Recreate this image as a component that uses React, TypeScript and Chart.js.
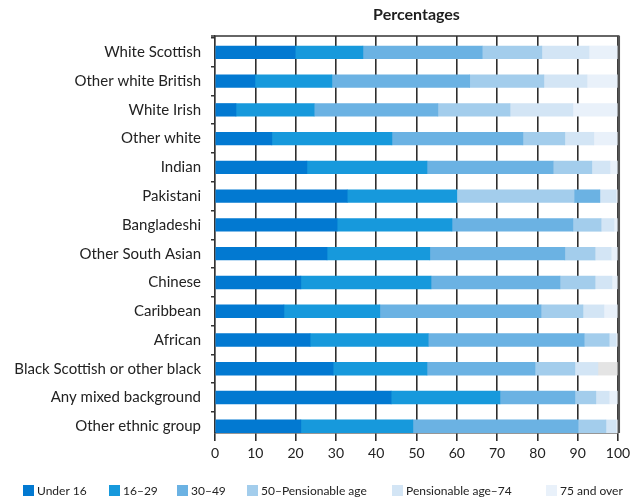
import React, { useEffect, useRef } from 'react';
import { Chart, registerables } from 'chart.js';

Chart.register(...registerables);

const categories = [
  'White Scottish',
  'Other white British',
  'White Irish',
  'Other white',
  'Indian',
  'Pakistani',
  'Bangladeshi',
  'Other South Asian',
  'Chinese',
  'Caribbean',
  'African',
  'Black Scottish or other black',
  'Any mixed background',
  'Other ethnic group',
];

const seriesNames = ['Under 16', '16–29', '30–49', '50–Pensionable age', 'Pensionable age–74', '75 and over'];

const under16 = [19.9, 9.9, 5.2, 14.1, 22.8, 32.8, 30.3, 27.8, 21.3, 17.1, 23.6, 29.3, 43.7, 21.3];
const age16to29 = [16.8, 19.1, 19.4, 29.8, 29.8, 27.2, 28.5, 25.5, 32.3, 23.8, 29.3, 23.3, 27.0, 27.8];
const age30to49 = [29.6, 34.2, 30.7, 32.5, 31.3, 29.1, 30.0, 33.5, 32.0, 40.0, 38.7, 26.8, 18.6, 41.0];
const age50toPension = [14.8, 18.4, 17.9, 10.4, 9.6, 6.4, 7.0, 7.5, 8.7, 10.4, 6.2, 9.9, 5.2, 6.9];
const pensionTo74 = [11.7, 10.7, 15.6, 7.2, 4.5, 4.0, 3.2, 4.0, 4.2, 5.2, 1.7, 5.7, 3.3, 2.5];
const age75plus = [7.2, 7.7, 11.2, 6.0, 2.0, 0.5, 1.0, 1.7, 1.5, 3.5, 0.5, 5.0, 2.2, 0.5];

const xTicks = [0, 10, 20, 30, 40, 50, 60, 70, 80, 90, 100];

const seriesColors = ['#0279D1', '#1799DC', '#6BB2E3', '#A3CDEC', '#D3E5F5', '#E9F1FA'];
const otherColor = '#E4E4E4';

const FONT = 'Lato, "Open Sans", "DejaVu Sans", sans-serif';
const legendX = [23, 109, 177, 247, 392, 546];

export default function App() {
  const canvasRef = useRef<HTMLCanvasElement | null>(null);

  useEffect(() => {
    const canvas = canvasRef.current;
    if (!canvas) return;

    const values = [under16, age16to29, age30to49, age50toPension, pensionTo74, age75plus];

    // per-bar colours (source chart shows swapped shades for Pakistani, grey last block for Black Scottish)
    const colorsFor = (s: number) =>
      categories.map((c) => {
        if (c === 'Pakistani' && s === 2) return seriesColors[3];
        if (c === 'Pakistani' && s === 3) return seriesColors[2];
        if (c === 'Black Scottish or other black' && s === 5) return otherColor;
        return seriesColors[s];
      });

    const datasets = seriesNames.map((name, s) => ({
      label: name,
      data: values[s].map((v, i) => ({ x: v, y: i })),
      backgroundColor: colorsFor(s),
      borderWidth: 0,
      barThickness: 12.7,
    }));

    const decor = {
      id: 'decor',
      afterDatasetsDraw(chart: any) {
        const { ctx, chartArea: a } = chart;
        ctx.save();
        ctx.strokeStyle = '#333';
        ctx.lineWidth = 1.5;
        ctx.beginPath();
        ctx.moveTo(a.left - 4, a.top);
        ctx.lineTo(a.right + 1.5, a.top);
        ctx.stroke();
        ctx.strokeStyle = '#555';
        ctx.lineWidth = 2.5;
        ctx.beginPath();
        ctx.moveTo(a.right + 0.8, a.top);
        ctx.lineTo(a.right + 0.8, a.bottom);
        ctx.stroke();
        ctx.restore();
      },
      afterDraw(chart: any) {
        const { ctx, chartArea: a } = chart;
        ctx.save();
        ctx.fillStyle = '#1e1e1e';
        ctx.font = `bold 16px ${FONT}`;
        ctx.textAlign = 'center';
        ctx.textBaseline = 'middle';
        ctx.fillText('Percentages', (a.left + a.right) / 2, 15);

        ctx.font = `12px ${FONT}`;
        ctx.textAlign = 'left';
        seriesNames.forEach((name, s) => {
          const x = legendX[s];
          ctx.fillStyle = seriesColors[s];
          ctx.fillRect(x, 485, 11, 11);
          ctx.fillStyle = '#222';
          ctx.fillText(name, x + 14, 491);
        });
        ctx.restore();
      },
    };

    const chart = new Chart(canvas, {
      type: 'bar',
      data: { datasets: datasets as any },
      plugins: [decor],
      options: {
        indexAxis: 'y',
        animation: false,
        responsive: false,
        maintainAspectRatio: false,
        layout: { padding: { top: 36, right: 13, bottom: 30, left: 0 } },
        plugins: {
          legend: { display: false },
          title: { display: false },
          tooltip: { enabled: false },
        },
        scales: {
          x: {
            type: 'linear',
            stacked: true,
            min: 0,
            max: 100,
            afterBuildTicks: (scale: any) => {
              scale.ticks = xTicks.map((v) => ({ value: v }));
            },
            afterFit: (scale: any) => {
              scale.height = 38;
              scale.paddingLeft = 0;
              scale.paddingRight = 0;
            },
            grid: { color: '#2e2e2e', lineWidth: 1.6, drawTicks: true, tickLength: 8 },
            border: { display: true, color: '#2e2e2e', width: 1.5 },
            ticks: { autoSkip: false, maxRotation: 0, padding: 4, color: '#222', font: { family: FONT, size: 14 } },
          },
          y: {
            type: 'linear',
            stacked: true,
            reverse: true,
            offset: false,
            min: -0.567,
            max: 13.233,
            afterBuildTicks: (scale: any) => {
              scale.ticks = categories.map((_, i) => ({ value: i }));
            },
            afterFit: (scale: any) => {
              scale.width = 215;
              scale.paddingTop = 0;
              scale.paddingBottom = 0;
            },
            grid: { offset: true, drawOnChartArea: false, drawTicks: true, tickLength: 4, color: '#333', lineWidth: 1.5 },
            border: { display: true, color: '#333', width: 1.2 },
            ticks: {
              autoSkip: false,
              padding: 10,
              color: '#222',
              font: { family: FONT, size: 15 },
              callback: (v: any) => categories[Math.round(Number(v))] ?? '',
            },
          },
        },
      } as any,
    });

    return () => chart.destroy();
  }, []);

  return (
    <div style={{ position: 'fixed', left: 0, top: 0, width: 631, height: 501, background: '#fff' }}>
      <canvas ref={canvasRef} width={631} height={501} style={{ width: 631, height: 501, display: 'block' }} />
    </div>
  );
}
